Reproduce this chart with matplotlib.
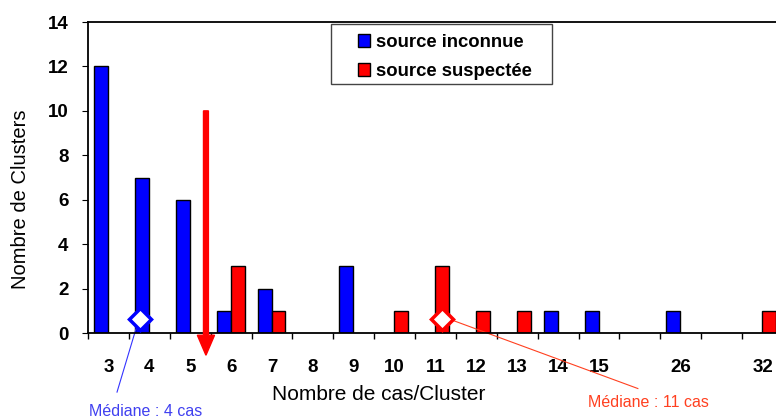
import matplotlib.pyplot as plt
import matplotlib.patches as mpatches
import numpy as np

plt.rcParams['font.family'] = ['Liberation Sans', 'DejaVu Sans']

# Nombre de cas par cluster (les cases vides sont des colonnes sans étiquette)
categories = ['3', '4', '5', '6', '7', '8', '9', '10', '11', '12', '13', '14', '15', '', '26', '', '32']
inconnue = [12, 7, 6, 1, 2, 0, 3, 0, 0, 0, 0, 1, 1, 0, 1, 0, 0]
suspectee = [0, 0, 0, 3, 1, 0, 0, 1, 3, 1, 1, 0, 0, 0, 0, 0, 1]

# médianes (position sur l'axe des catégories, hauteur du marqueur)
median_inconnue = (0.77, 0.63)
median_suspectee = (8.15, 0.63)
arrow_x, arrow_top = 2.385, 10

fig = plt.figure(figsize=(7.76, 4.19), dpi=100)
ax = fig.add_axes([88 / 776, 1 - 333 / 419, 695 / 776, 311 / 419])

x = np.arange(len(categories))
w = 0.34
h1 = np.where(np.array(inconnue) > 0, inconnue, np.nan)
h2 = np.where(np.array(suspectee) > 0, suspectee, np.nan)
ax.bar(x - w / 2 - 0.01, h1, w, color='#0000FF', edgecolor='black', linewidth=1, label='source inconnue')
ax.bar(x + w / 2 - 0.01, h2, w, color='#FF0000', edgecolor='black', linewidth=1, label='source suspectée')

ax.set_xlim(-0.5, len(categories) - 0.5)
ax.set_ylim(0, 14)
ax.set_yticks(range(0, 15, 2))
ax.set_xticks(x)
ax.set_xticklabels(categories)
ax.set_xticks(np.arange(-0.5, len(categories), 1), minor=True)
ax.tick_params(axis='x', which='major', length=0, pad=18.5, labelsize=13.5)
ax.tick_params(axis='x', which='minor', length=4, direction='out', width=1)
ax.tick_params(axis='y', length=4, direction='out', pad=10, labelsize=13.5)
for lab in ax.get_xticklabels() + ax.get_yticklabels():
    lab.set_fontweight('bold')
for s in ax.spines.values():
    s.set_linewidth(1.3)

# flèche rouge
ax.arrow(arrow_x, arrow_top, 0, -(arrow_top + 1.0), width=0.12, head_width=0.42,
         head_length=0.9, length_includes_head=True, color='#FF0000', clip_on=False, zorder=5)

# médianes
ax.plot(*median_inconnue, marker='D', markersize=11, markerfacecolor='white',
        markeredgecolor='#0000FF', markeredgewidth=2.5, clip_on=False, zorder=6)
ax.plot(*median_suspectee, marker='D', markersize=11, markerfacecolor='white',
        markeredgecolor='#FF0000', markeredgewidth=2.5, clip_on=False, zorder=6)
ax.plot([0.70, 0.21], [0.35, -2.66], color='#3333FF', lw=0.8, clip_on=False)
ax.plot([8.45, 12.95], [0.55, -2.5], color='#FF4020', lw=0.8, clip_on=False)
fig.text(146 / 776, 1 - 411 / 419, 'Médiane : 4 cas', color='#4040F0', fontsize=11.5,
         ha='center', va='center')
fig.text(648 / 776, 1 - 402 / 419, 'Médiane : 11 cas', color='#FF4020', fontsize=11.5,
         ha='center', va='center')

# titres des axes
fig.text(379 / 776, 1 - 394 / 419, 'Nombre de cas/Cluster', fontsize=15, ha='center', va='center')
fig.text(21 / 776, 1 - 199 / 419, 'Nombre de Clusters', fontsize=14.5, ha='center', va='center',
         rotation=90)

# légende
fig.patches.append(mpatches.Rectangle((331 / 776, 1 - 84 / 419), 221 / 776, 60 / 419,
                                      transform=fig.transFigure, fill=False,
                                      edgecolor='#444444', linewidth=1))
leg = fig.legend(loc='center left', bbox_to_anchor=(358 / 776, 1 - 57 / 419), frameon=False,
                 prop={'weight': 'bold', 'size': 13.3}, handlelength=0.65, handleheight=0.65,
                 handletextpad=0.3, labelspacing=0.65, borderaxespad=0, borderpad=0)

fig.savefig('out.png', dpi=100)
